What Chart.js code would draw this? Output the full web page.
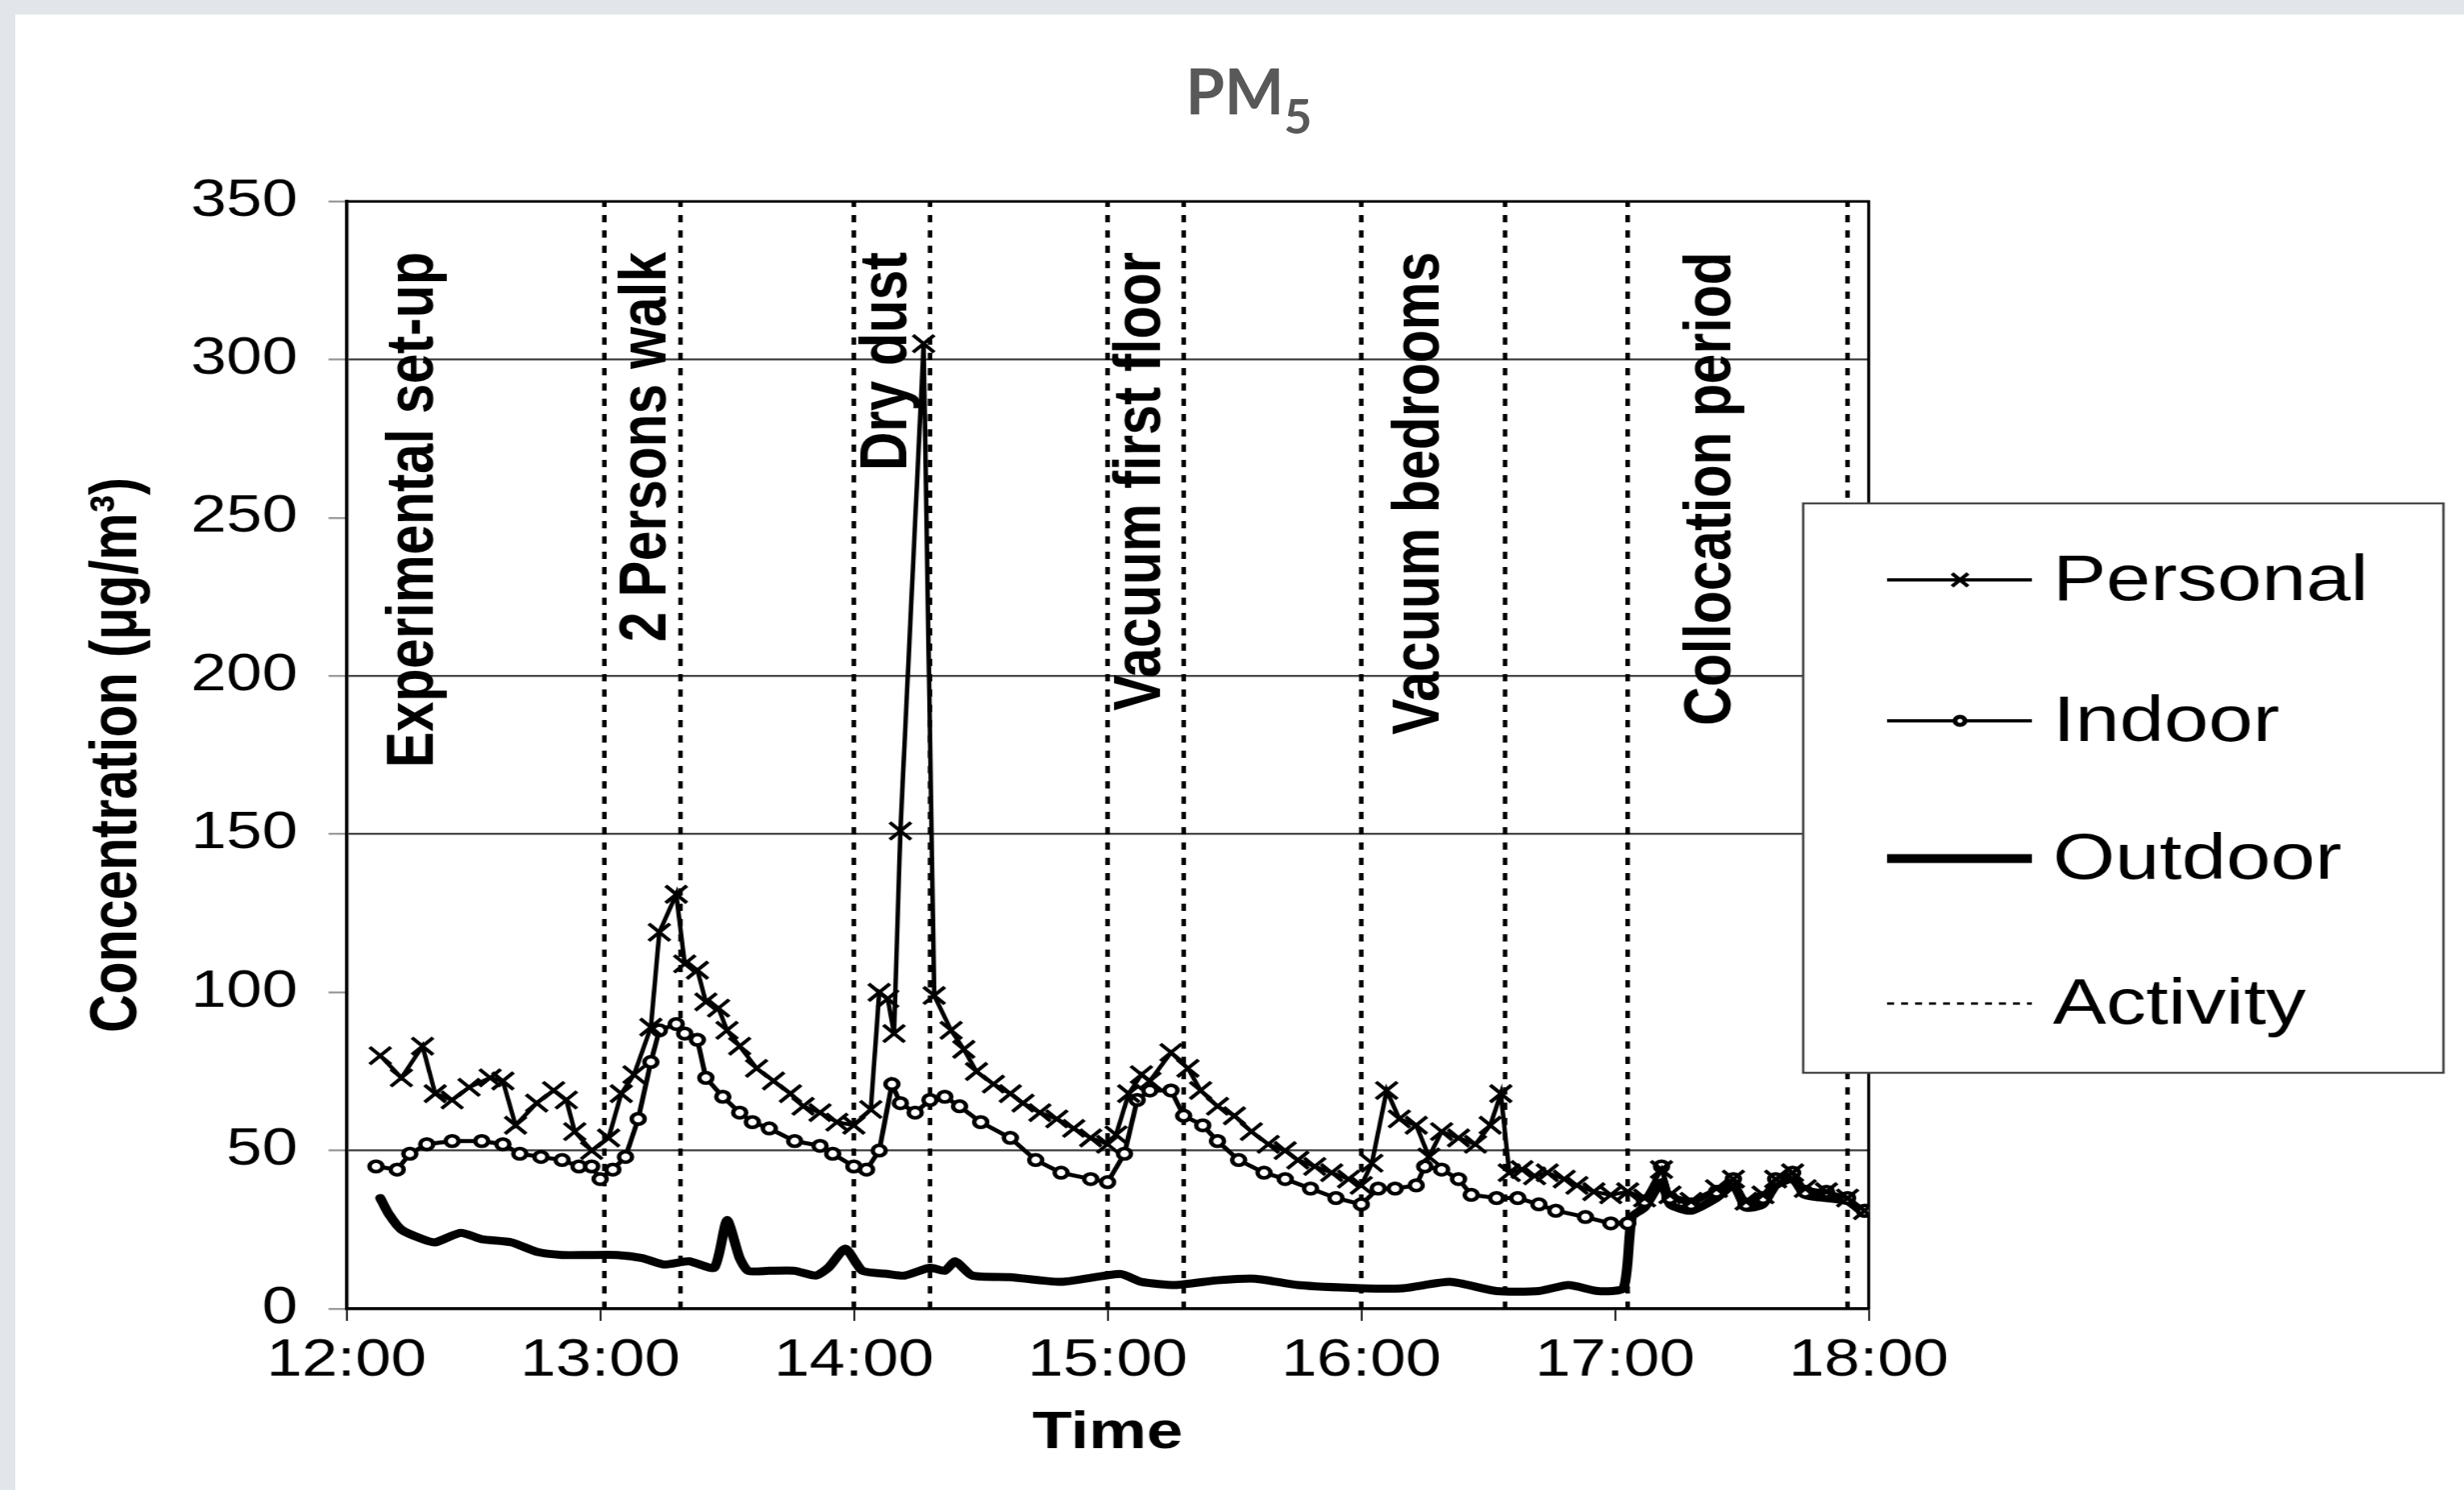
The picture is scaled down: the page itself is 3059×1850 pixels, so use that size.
<!DOCTYPE html>
<html>
<head>
<meta charset="utf-8">
<script src="https://cdn.jsdelivr.net/npm/chart.js@4.4.1/dist/chart.umd.min.js"></script>
<style>
  html, body { margin: 0; padding: 0; }
  body { width: 3059px; height: 1850px; background: #e2e5e9; position: relative; overflow: hidden; }
  #panel { position: absolute; left: 19px; top: 18px; right: 0; bottom: 0; background: #fff; }
  #title { position: absolute; left: 1472px; top: 73px; font: bold 78px Lato, "Liberation Sans", sans-serif; color: #595959; line-height: 1; white-space: nowrap; }
  #title .sub { position: relative; top: 24px; font-size: 60px; }
  #wrap { position: absolute; left: 19px; top: 18px; width: 2452px; height: 1832px; transform: scaleX(1.24); transform-origin: 0 0; }
</style>
</head>
<body>
<div id="panel"></div>
<div id="title">PM<span class="sub">5</span></div>
<div id="wrap"><canvas id="chart" width="2452" height="1832"></canvas></div>
<script>
// ---------- data (minutes after 12:00) ----------
const tickLabels = ['12:00', '13:00', '14:00', '15:00', '16:00', '17:00', '18:00'];

const personalTimes = [8,13,18,21,25,29,34,37,40,45,49,52,54,58,62,65,68,72,74,78,
  80,83,85,88,90,93,97,101,105,108,112,116,120,124,126,128,129.5,131,136.5,139,
  143,146,149,153,157,160,164,168,172,176,180,182,185,188,190,195,199,202,206,210,
  214,218,222,225,229,233,237,240,242.5,246,249,253,256,259,263,267,270.5,273,275,278,
  281,284,288,291,295,299,303,307,311,313,318,324,328,331,335,338,342,345,350,355,359];
const personalValues = [80,73,83,68,66,70,73,72,58,65,69,66,56,50,54,68,74,89,119,131,
  109,107,97,95,88,83,76,72,68,64,62,59,58,63,100,98,87,151,305,99,
  88,82,75,71,68,65,62,60,57,54,52,55,68,74,72,81,76,69,64,61,
  56,52,50,47,45,43,41,39,46,69,60,58,48,56,54,52,58,68,43,44,
  42,43,41,39,37,36,37,35,44,36,34,38,41,34,36,41,43,38,37,35,31];

const indoorTimes = [7,12,15,19,25,32,37,41,46,51,55,58,60,63,66,69,72,74,78,80,
  83,85,89,93,96,100,106,112,115,120,123,126,129,131,134.5,138,141.5,145,150,157,
  163,169,176,180,184,187,190,195,198,202.5,206,211,217,222,228,234,240,244,248,253,
  255,259,263,266,272,277,282,286,293,299,303,307,311,313,318,324,328,331,335,338,
  342,345,350,355,359];
const indoorValues = [45,44,49,52,53,53,52,49,48,47,45,45,41,44,48,60,78,88,90,87,
  85,73,67,62,59,57,53,51.5,49,45,44,50,71,65,62,66,67,64,59,54,
  47,43,41,40,49,66,69,69,61,58,53,47,43,41,38,35,33,38,38,39,
  45,44,41,36,35,35,33,31,29,27,27,34,45,35,33,37,41,33,35,41,
  43,37,37,35,31];

const outdoorTimes = [8,10,13,18,21,27,32,39,45,51,57,64,70,75,81,87,90,93,95,100,
  106,111,114,118,122,128,132,138,141.5,144,148,157,169,183,188,196,206,215,225,240,
  250,261,272,282,289,296,302,304,307,311,313,318,324,328,331,335,338,342,345,350,
  355,359];
const outdoorValues = [35,30,25,22,21,24,22,21,18,17,17,17,16,14,15,13,28,16,12,12,
  12,10.5,13,19,12,11,10.5,13,12,15,10.5,10,8.5,11,8.5,7.5,9,9.5,7.5,6.5,
  6.5,8.5,5.6,5.6,7.5,5.6,6.5,29,32,40,33,31,35,39,32,33,39,41,36,35,
  34,30];

const activityTimes = [61, 79, 120, 138, 180, 198, 240, 274, 303, 355];
const activityNames = ['Experimental set-up', '2 Persons walk', 'Dry dust',
  'Vacuum first floor', 'Vacuum bedrooms', 'Collocation period'];
const activityLabelTimes = [16, 71, 128, 188, 254, 323];
const activityLabelTop = 334;

// ---------- helpers ----------
function pts(times, values) {
  return times.map((t, i) => ({ x: t, y: values[i] }));
}

function activityData() {
  let out = [];
  activityTimes.forEach(t => {
    out.push({ x: t, y: 0 }, { x: t, y: 350 }, { x: t, y: null });
  });
  return out;
}

const FONT = '"Liberation Sans", Arial, sans-serif';

// frame + rotated activity names
const activityPlugin = {
  id: 'activityNames',
  beforeDatasetsDraw(chart) {
    const { ctx, chartArea: a } = chart;
    const xs = chart.scales.x, ys = chart.scales.y;
    ctx.save();
    ctx.strokeStyle = '#000';
    ctx.lineWidth = 3;
    ctx.beginPath();
    ctx.moveTo(a.left, a.top);
    ctx.lineTo(a.right, a.top);
    ctx.lineTo(a.right, a.bottom);
    ctx.stroke();

    ctx.font = 'bold 67px ' + FONT;
    ctx.fillStyle = '#000';
    ctx.textAlign = 'right';
    ctx.textBaseline = 'middle';
    activityNames.forEach((name, i) => {
      ctx.save();
      ctx.translate(xs.getPixelForValue(activityLabelTimes[i]), ys.getPixelForValue(activityLabelTop));
      ctx.rotate(-Math.PI / 2);
      ctx.fillText(name, 0, 0);
      ctx.restore();
    });
    ctx.restore();
  }
};

// boxed legend sitting over the right edge of the plot
const legendPlugin = {
  id: 'boxLegend',
  afterDraw(chart) {
    const ctx = chart.ctx;
    const box = { x: 1790, y: 607, w: 641, h: 707 };
    const rows = [702, 877, 1048, 1228];
    const x0 = 1874, x1 = 2019, xm = 1947;
    ctx.save();
    ctx.fillStyle = '#fff';
    ctx.fillRect(box.x, box.y, box.w, box.h);
    ctx.strokeStyle = '#444';
    ctx.lineWidth = 2.5;
    ctx.strokeRect(box.x, box.y, box.w, box.h);

    chart.data.datasets.forEach((ds, i) => {
      const y = rows[i];
      ctx.strokeStyle = '#000';
      ctx.lineWidth = i === 3 ? 3 : (i === 2 ? 11 : 4);
      ctx.setLineDash(i === 3 ? [7, 7] : []);
      ctx.beginPath();
      ctx.moveTo(x0, y);
      ctx.lineTo(x1, y);
      ctx.stroke();
      ctx.setLineDash([]);

      if (ds.pointStyle === 'crossRot') {
        const r = 8;
        ctx.lineWidth = 4;
        ctx.beginPath();
        ctx.moveTo(xm - r, y - r); ctx.lineTo(xm + r, y + r);
        ctx.moveTo(xm - r, y + r); ctx.lineTo(xm + r, y - r);
        ctx.stroke();
      } else if (ds.pointStyle === 'circle' && ds.pointRadius > 0) {
        ctx.lineWidth = 5;
        ctx.fillStyle = '#fff';
        ctx.beginPath();
        ctx.arc(xm, y, 5, 0, Math.PI * 2);
        ctx.fill();
        ctx.stroke();
      }

      ctx.fillStyle = '#000';
      ctx.font = '80px ' + FONT;
      ctx.textAlign = 'left';
      ctx.textBaseline = 'middle';
      ctx.fillText(ds.label, 2040, y + 3);
    });
    ctx.restore();
  }
};

Chart.defaults.font.family = FONT;
Chart.defaults.color = '#000';

new Chart(document.getElementById('chart'), {
  type: 'line',
  data: {
    datasets: [
      {
        label: 'Personal',
        data: pts(personalTimes, personalValues),
        borderColor: '#000',
        borderWidth: 4.5,
        pointStyle: 'crossRot',
        pointRadius: 15,
        pointBorderWidth: 4,
        pointBorderColor: '#000',
        pointBackgroundColor: 'rgba(0,0,0,0)',
        tension: 0
      },
      {
        label: 'Indoor',
        data: pts(indoorTimes, indoorValues),
        borderColor: '#000',
        borderWidth: 5,
        pointStyle: 'circle',
        pointRadius: 6.5,
        pointBorderWidth: 4.5,
        pointBorderColor: '#000',
        pointBackgroundColor: '#fff',
        tension: 0
      },
      {
        label: 'Outdoor',
        data: pts(outdoorTimes, outdoorValues),
        borderColor: '#000',
        borderWidth: 10,
        borderJoinStyle: 'round',
        borderCapStyle: 'round',
        pointRadius: 0,
        tension: 0.2
      },
      {
        label: 'Activity',
        data: activityData(),
        borderColor: '#000',
        borderWidth: 4.5,
        borderDash: [9, 10],
        pointRadius: 0,
        spanGaps: false
      }
    ]
  },
  options: {
    responsive: false,
    devicePixelRatio: 1,
    animation: false,
    layout: { padding: { left: 0, top: 232, right: 596.4, bottom: 0 } },
    plugins: {
      legend: { display: false },
      tooltip: { enabled: false }
    },
    scales: {
      x: {
        type: 'linear',
        min: 0,
        max: 360,
        afterFit: s => { s.height = 225; },
        border: { color: '#000', width: 3.5 },
        grid: { drawOnChartArea: false, tickLength: 15, tickColor: '#222', lineWidth: 2 },
        ticks: {
          stepSize: 60,
          autoSkip: false,
          maxRotation: 0,
          padding: 12,
          font: { size: 64 },
          callback: v => tickLabels[Math.round(v / 60)]
        },
        title: {
          display: true,
          text: 'Time',
          font: { size: 65, weight: 'bold' },
          padding: { top: 0, bottom: 31 }
        }
      },
      y: {
        min: 0,
        max: 350,
        afterFit: s => { s.width = 331.5; },
        border: { color: '#000', width: 3.5 },
        grid: {
          tickLength: 18,
          lineWidth: 2.5,
          tickColor: '#999',
          color: c => (c.tick && (c.tick.value === 100 || c.tick.value === 250)) ? 'rgba(0,0,0,0)' : '#444'
        },
        ticks: { stepSize: 50, padding: 31, font: { size: 64 } },
        title: {
          display: true,
          text: 'Concentration (μg/m³)',
          font: { size: 66, weight: 'bold' },
          padding: { top: 63, bottom: 0 }
        }
      }
    }
  },
  plugins: [activityPlugin, legendPlugin]
});
</script>
</body>
</html>
